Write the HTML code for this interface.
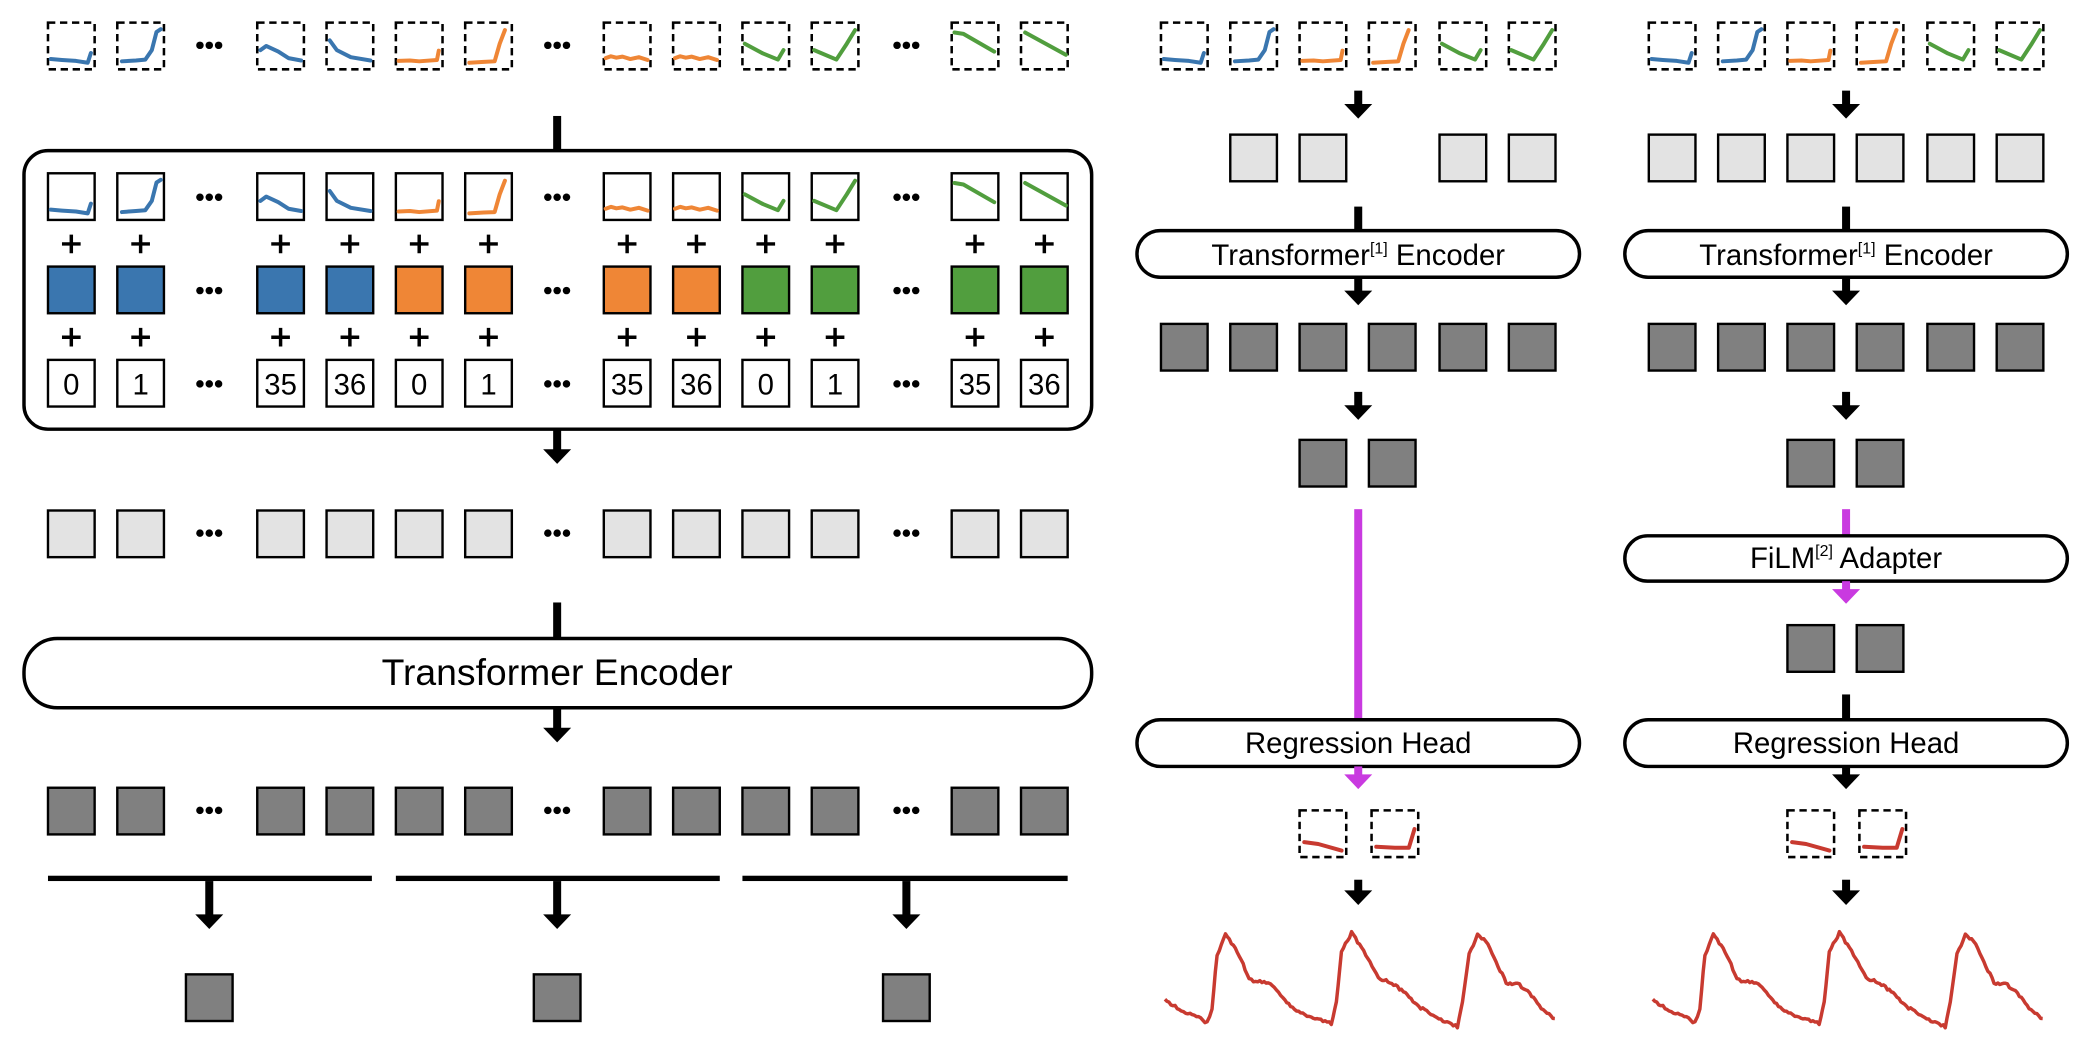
<!DOCTYPE html>
<html><head><meta charset="utf-8"><style>
html,body{margin:0;padding:0;background:#fff;}
svg{display:block;}
text{font-family:"Liberation Sans",Arial,sans-serif;fill:#000;}
</style></head><body>
<svg id="s" width="2090" height="1046" viewBox="0 0 1568 784.75" xmlns="http://www.w3.org/2000/svg">
<g id="g"></g>
<g text-anchor="middle">
<text x="418" y="514" font-size="28">Transformer Encoder</text>
<text x="1019" y="199" font-size="22">Transformer<tspan font-size="12" dy="-9">[1]</tspan><tspan dy="9"> Encoder</tspan></text>
<text x="1385" y="199" font-size="22">Transformer<tspan font-size="12" dy="-9">[1]</tspan><tspan dy="9"> Encoder</tspan></text>
<text x="1385" y="426" font-size="22">FiLM<tspan font-size="12" dy="-9">[2]</tspan><tspan dy="9"> Adapter</tspan></text>
<text x="1019" y="565" font-size="22">Regression Head</text>
<text x="1385" y="565" font-size="22">Regression Head</text>
<g font-size="22">
<text x="53.5" y="296">0</text><text x="105.5" y="296">1</text>
<text x="210.5" y="296">35</text><text x="262.5" y="296">36</text>
<text x="314.5" y="296">0</text><text x="366.5" y="296">1</text>
<text x="470.5" y="296">35</text><text x="522.5" y="296">36</text>
<text x="574.5" y="296">0</text><text x="626.5" y="296">1</text>
<text x="731.5" y="296">35</text><text x="783.5" y="296">36</text>
</g>
</g>
</svg>
<script>
var NS="http://www.w3.org/2000/svg",G=document.getElementById("g");
function el(t,a){var e=document.createElementNS(NS,t);for(var k in a)e.setAttribute(k,a[k]);G.appendChild(e);return e;}
var W=35;
var BL="#3a76af",OR="#ef8636",GR="#519e3e",LG="#e3e3e3",DG="#808080",MG="#c93ae0",RD="#c83a30";
var SP={
A:[[.06,.78],[.3,.8],[.6,.82],[.85,.86],[.92,.65]],
B:[[.1,.83],[.4,.81],[.6,.79],[.74,.59],[.84,.2],[.93,.14]],
C:[[.07,.59],[.19,.5],[.45,.62],[.67,.76],[.94,.81]],
D:[[.07,.38],[.22,.59],[.52,.74],[.94,.81]],
E:[[.04,.76],[.15,.72],[.27,.75],[.4,.73],[.57,.78],[.75,.74],[.94,.8]],
OA:[[.06,.82],[.3,.81],[.5,.83],[.88,.8],[.92,.6]],
OB:[[.09,.86],[.4,.84],[.63,.83],[.74,.45],[.85,.16]],
F:[[.05,.45],[.44,.66],[.76,.79],[.88,.59]],
Gc:[[.05,.59],[.53,.79],[.75,.45],[.93,.16]],
H1:[[.06,.21],[.25,.24],[.91,.62]],
H2:[[.09,.21],[.96,.69]],
RA:[[.1,.68],[.4,.72],[.9,.86]],
RB:[[.1,.78],[.5,.8],[.8,.8],[.92,.4]]
};
function spark(x,y,t,c){var p=SP[t],d="";p.forEach(function(q,i){d+=(i?"L":"M")+(x+q[0]*W).toFixed(1)+","+(y+q[1]*W).toFixed(1);});
el("path",{d:d,fill:"none",stroke:c,"stroke-width":3,"stroke-linejoin":"round","stroke-linecap":"round"});}
function box(x,y,f,dash){var a={x:x,y:y,width:W,height:W,fill:f||"#fff",stroke:"#000","stroke-width":dash?1.9:1.8};if(dash)a["stroke-dasharray"]="5.5,3.5";el("rect",a);}
function dots(cx,cy){for(var i=-1;i<=1;i++)el("circle",{cx:cx+i*7,cy:cy,r:2.8,fill:"#000"});}
function arrow(x,y1,y2,c){c=c||"#000";el("rect",{x:x-3,y:y1,width:6,height:y2-y1-10,fill:c});el("path",{d:"M"+(x-10.5)+","+(y2-11)+"L"+(x+10.5)+","+(y2-11)+"L"+x+","+y2+"Z",fill:c});}
function line(x,y1,y2,c){el("rect",{x:x-3,y:y1,width:6,height:y2-y1,fill:c||"#000"});}
function plus(cx,cy){el("path",{d:"M"+(cx-7)+","+cy+"H"+(cx+7)+"M"+cx+","+(cy-7)+"V"+(cy+7),stroke:"#000","stroke-width":2.6});}
function pill(x1,y1,x2,y2,r){el("rect",{x:x1,y:y1,width:x2-x1,height:y2-y1,rx:r,ry:r,fill:"#fff",stroke:"#000","stroke-width":2.6});}

var xs=[36,88,193,245,297,349,453,505,557,609,714,766];
var tp=["A","B","C","D","OA","OB","E","E","F","Gc","H1","H2"];
var cl=[BL,BL,BL,BL,OR,OR,OR,OR,GR,GR,GR,GR];
var dx=[157,418,680];
xs.forEach(function(x,i){box(x,17,null,true);spark(x,17,tp[i],cl[i]);});
dx.forEach(function(d){dots(d,34);});
line(418,87,114);
pill(18,113,819,322,18);
xs.forEach(function(x,i){box(x,130);spark(x,130,tp[i],cl[i]);plus(x+W/2,183);box(x,200,cl[i]);plus(x+W/2,253);box(x,270);});
dx.forEach(function(d){dots(d,148);dots(d,218);dots(d,288);});
arrow(418,322,348);
xs.forEach(function(x){box(x,383,LG);});dx.forEach(function(d){dots(d,400);});
line(418,452,480);
pill(18,479,819,531,25);
arrow(418,531,557);
xs.forEach(function(x){box(x,591,DG);});dx.forEach(function(d){dots(d,608);});
[[36,279,157],[297,540,418],[557,801,680]].forEach(function(s){
 el("rect",{x:s[0],y:657,width:s[1]-s[0],height:4,fill:"#000"});arrow(s[2],661,697);box(s[2]-17.5,731,DG);});

var WV=[[874,750.2],[880,754],[887.9,759],[896,762],[905.6,767.1],[909.3,756.5],[913.1,716.2],[919.4,701],[928.2,713.6],[937.1,733.8],[942,737],[948.4,736.3],[956,740.1],[964,750],[971.1,757.8],[983.7,762.8],[991,765],[998.8,767.8],[1002.6,751.5],[1006.4,713.6],[1014,699.8],[1021.5,711.1],[1034.1,733.8],[1044.2,737.6],[1054.3,745.2],[1064.4,755.2],[1079.5,764.1],[1093.4,770.4],[1097.2,751.5],[1102.2,716.2],[1108.5,701],[1114.8,706.1],[1122.4,721.2],[1130,737.6],[1140,738.9],[1147.6,745.2],[1157.7,757.8],[1166.5,764.1]];
function wave(off){var d="",seed=1;
 for(var i=0;i<WV.length-1;i++){var a=WV[i],b=WV[i+1],n=Math.max(1,Math.round((b[0]-a[0])/1.5));
  for(var j=0;j<n;j++){var t=j/n;seed=(seed*9301+49297)%233280;var jt=(seed/233280-0.5)*2.0;
   d+=(d?"L":"M")+(a[0]+(b[0]-a[0])*t+off).toFixed(1)+","+(a[1]+(b[1]-a[1])*t+jt).toFixed(1);}}
 var l=WV[WV.length-1];d+="L"+(l[0]+off)+","+l[1];
 el("path",{d:d,fill:"none",stroke:RD,"stroke-width":2.6,"stroke-linejoin":"round"});}

[0,366].forEach(function(o){
 var c=1019+o;
 var x6=[871,923,975,1027,1080,1132].map(function(v){return v+o;});
 var t6=["A","B","OA","OB","F","Gc"],c6=[BL,BL,OR,OR,GR,GR];
 x6.forEach(function(x,i){box(x,17,null,true);spark(x,17,t6[i],c6[i]);});
 arrow(c,68,89);
 x6.forEach(function(x,i){if(o||(i!=0&&i!=3))box(x,101,LG);});
 line(c,155,175);
 pill(c-166,173,c+166,208,17.5);
 arrow(c,208,229);
 x6.forEach(function(x){box(x,243,DG);});
 arrow(c,294,315);
 box(975+o,330,DG);box(1027+o,330,DG);
 if(!o){line(c,382,541,MG);}
 else{line(c,382,403,MG);pill(c-166,402,c+166,436,17);arrow(c,436,453,MG);box(975+o,469,DG);box(1027+o,469,DG);line(c,521,541);}
 pill(c-166,540,c+166,575,17.5);
 if(!o)arrow(c,575,592,MG);else arrow(c,575,592);
 box(975+o,608,null,true);box(1029+o,608,null,true);
 spark(975+o,608,"RA",RD);spark(1029+o,608,"RB",RD);
 arrow(c,660,679);
 wave(o);
});
</script>
</body></html>
